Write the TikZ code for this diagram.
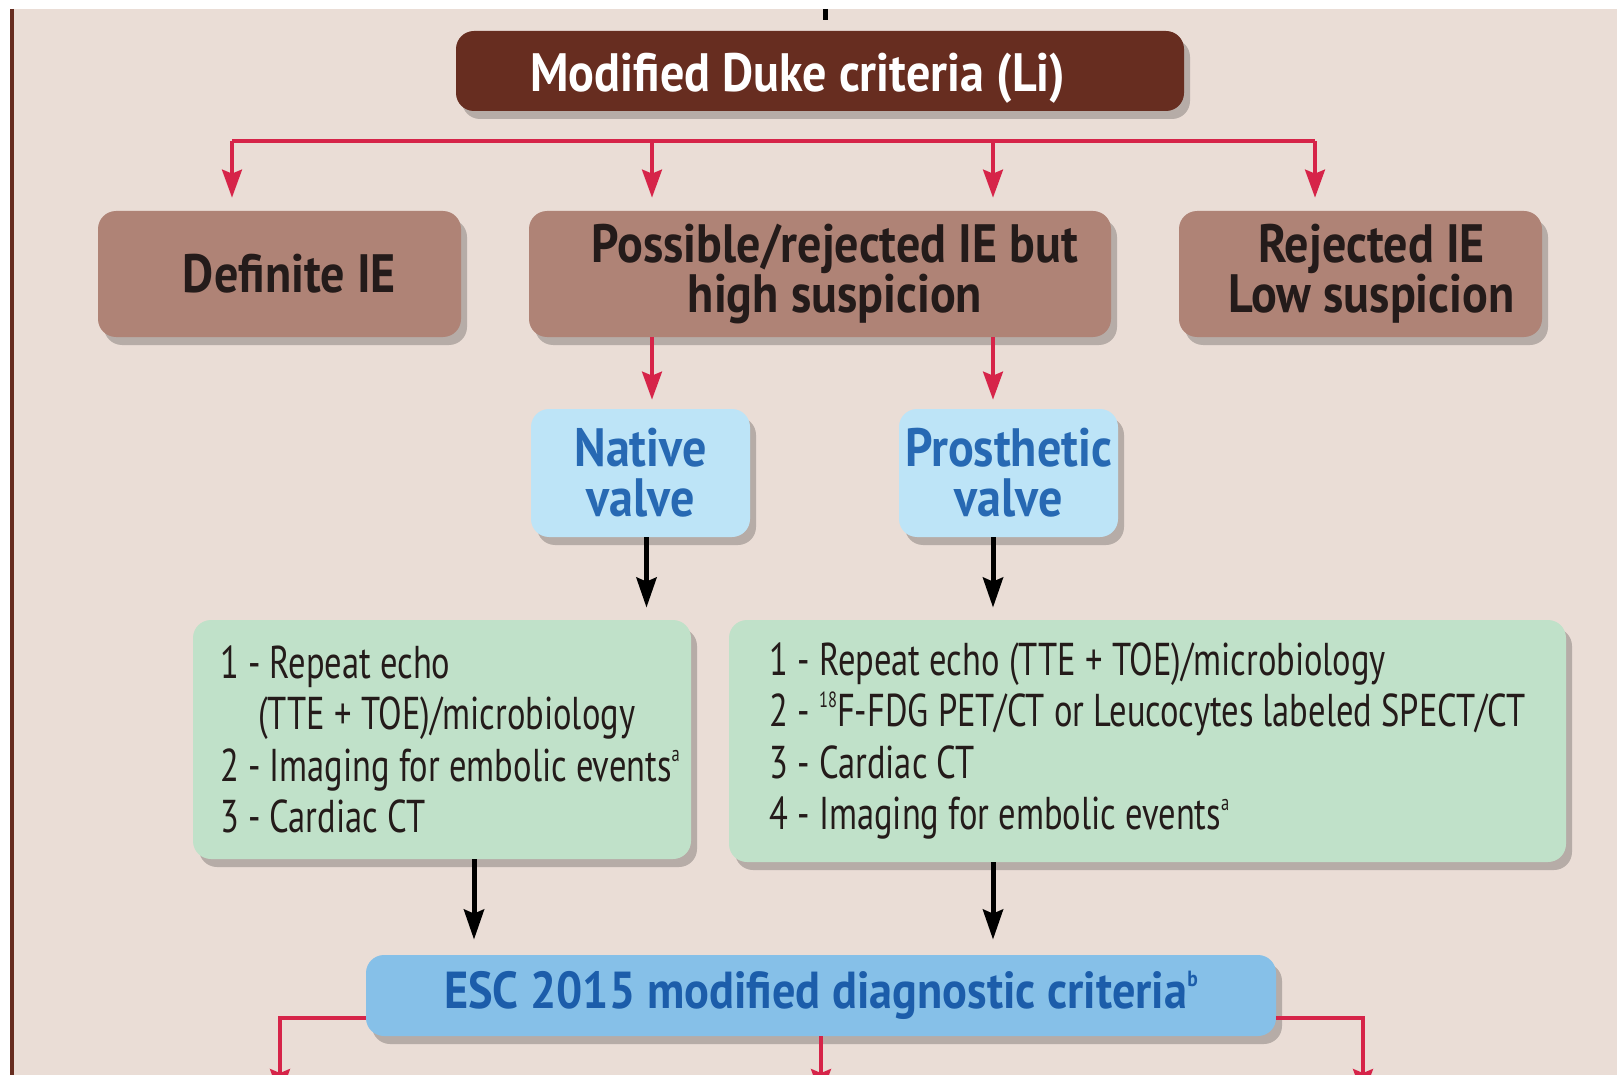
\documentclass[tikz,border=0pt]{standalone}
\usepackage{fontspec}
\setmainfont{PT Sans}[FakeStretch=0.75]
\newfontfamily\headfont{PT Sans}[FakeStretch=0.89]
\usepackage{xcolor}
\usetikzlibrary{arrows.meta,shadows}
\definecolor{bgpink}{HTML}{EADDD6}
\definecolor{dukebrown}{HTML}{672D20}
\definecolor{boxbrown}{HTML}{AF8376}
\definecolor{valveblue}{HTML}{BDE4F7}
\definecolor{valvetext}{HTML}{2769B3}
\definecolor{stepgreen}{HTML}{C0E1C9}
\definecolor{escblue}{HTML}{86C0E8}
\definecolor{esctext}{HTML}{1C5DAA}
\definecolor{linkred}{HTML}{D62449}
\definecolor{darktext}{HTML}{241B1A}
\newcommand{\supnote}[1]{\raisebox{0.85ex}{\fontsize{11pt}{11pt}\selectfont #1}}

\begin{document}
\begin{tikzpicture}[x=0.5pt, y=-0.5pt,
    box/.style = {rounded corners=9pt, inner sep=0pt, align=center,
      drop shadow={shadow xshift=3pt, shadow yshift=-4pt, opacity=0.22, fill=black}},
    topbox/.style = {box, fill=dukebrown, text=white, minimum width=364pt, minimum height=40pt,
      font=\headfont\fontsize{27pt}{25pt}\selectfont\bfseries},
    stagebox/.style = {box, fill=boxbrown, text=darktext, minimum height=63pt,
      font=\headfont\fontsize{27pt}{25pt}\selectfont\bfseries},
    valvebox/.style = {box, fill=valveblue, text=valvetext, minimum width=109.5pt, minimum height=64pt,
      font=\headfont\fontsize{27pt}{25pt}\selectfont\bfseries},
    stepbox/.style = {box, fill=stepgreen, text=darktext, align=left,
      font=\fontsize{23pt}{25.75pt}\selectfont},
    escbox/.style = {box, fill=escblue, text=esctext, minimum width=455pt, minimum height=40.5pt,
      font=\headfont\fontsize{26pt}{26pt}\selectfont\bfseries},
    redline/.style = {draw=linkred, line width=1.6pt},
    redarrow/.style = {redline, -{Stealth[length=14pt, width=10pt, inset=2pt]}},
    blackarrow/.style = {draw=black, line width=2.5pt, -{Stealth[length=15pt, width=10pt, inset=2pt]}}]
        \useasboundingbox (0,0) rectangle (1617,1075);
        \clip (0,0) rectangle (1617,1075);
        \fill[white] (0,0) rectangle (1617,1075);
        \fill[bgpink] (10,9) rectangle (1617,1075);
        \draw[dukebrown, line width=2pt] (11.5,9) -- (11.5,1075);

        \node [topbox, text height=27pt, text depth=6pt] (duke) at (820,71) {Modified Duke criteria (Li)\hspace*{22pt}};
        \node [stagebox, minimum width=181.5pt] (defi) at (279.5,274) {\hspace*{10pt}Definite IE};
        \node [stagebox, minimum width=291pt] (poss) at (820,274) {\hspace*{15pt}Possible/rejected IE but\\\hspace*{15pt}high suspicion};
        \node [stagebox, minimum width=181.5pt] (rej) at (1360.5,274) {\hspace*{11pt}Rejected IE\\\hspace*{11pt}Low suspicion};
        \node [valvebox] (native) at (640.5,473) {Native\\valve};
        \node [valvebox] (prost) at (1008.5,473) {Prosthetic\\valve};
        \node [stepbox, minimum width=249pt, minimum height=119.5pt] (lsteps) at (442,739.5)
          {\hspace*{8pt}1 - Repeat echo\\\hspace*{27pt}(TTE + TOE)/microbiology\\\hspace*{8pt}2 - Imaging for embolic events\supnote{a}\\\hspace*{8pt}3 - Cardiac CT};
        \node [stepbox, minimum width=418.5pt, minimum height=121pt] (rsteps) at (1147.5,741)
          {1 - Repeat echo (TTE + TOE)/microbiology\\2 - \supnote{18}F-FDG PET/CT or Leucocytes labeled SPECT/CT\\3 - Cardiac CT\\4 - Imaging for embolic events\supnote{a}};
        \node [escbox] (esc) at (821,995.5) {ESC 2015 modified diagnostic criteria\supnote{b}};

        \coordinate (tk) at (825,9);
        \coordinate (b1) at (232,141);
        \coordinate (b2) at (652,141);
        \coordinate (b3) at (993,141);
        \coordinate (b4) at (1315,141);
        \coordinate (e1) at (280,1097);
        \coordinate (e2) at (821,1097);
        \coordinate (e3) at (1363,1097);

        \draw[line width=2.5pt, shorten >=5.5pt] (tk) -- (tk |- duke.north);
        \draw[redline] (b1) -- (b4);
        \foreach \b/\n in {b1/defi, b2/poss, b3/poss, b4/rej}
          \draw[redarrow, shorten >=6.5pt] (\b) -- (\b |- \n.north);
        \draw[redarrow, shorten >=4.5pt] (b2 |- poss.south) -- (b2 |- native.north);
        \draw[redarrow, shorten >=4.5pt] (b3 |- poss.south) -- (b3 |- prost.north);
        \draw[blackarrow, shorten >=6pt] ([xshift=3pt]native.south) -- ([xshift=3pt]native.south |- lsteps.north);
        \draw[blackarrow, shorten >=6pt] (b3 |- prost.south) -- (b3 |- rsteps.north);
        \draw[blackarrow, shorten >=7.5pt] ([xshift=16pt]lsteps.south) -- ([xshift=16pt]lsteps.south |- esc.north);
        \draw[blackarrow, shorten >=7.5pt] (b3 |- rsteps.south) -- (b3 |- esc.north);
        \draw[redarrow] ([yshift=-11.25pt]esc.west) -| (e1);
        \draw[redarrow] (esc.south) -- (e2);
        \draw[redarrow] ([yshift=-11.25pt]esc.east) -| (e3);
\end{tikzpicture}
\end{document}
